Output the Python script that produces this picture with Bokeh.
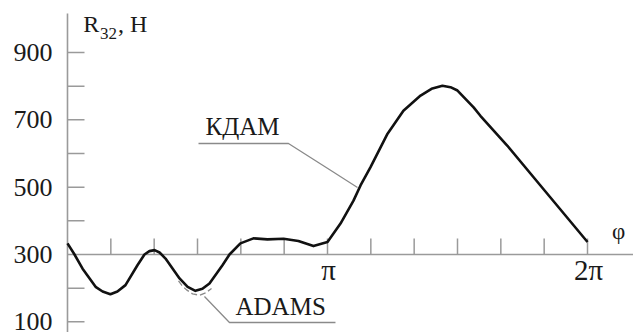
import numpy as np
from bokeh.plotting import figure
from bokeh.models import Range1d
from bokeh.core.properties import value
from bokeh.embed import file_html
from bokeh.resources import INLINE

# ---- data (phi given in units of pi, force R32 in N) ----
kdam_phi = [0.000, 0.027, 0.058, 0.108, 0.135, 0.165, 0.192, 0.223, 0.269, 0.296,
            0.315, 0.335, 0.354, 0.377, 0.431, 0.462, 0.492, 0.519, 0.546, 0.596,
            0.623, 0.665, 0.715, 0.769, 0.831, 0.888, 0.946, 1.000, 1.050, 1.100,
            1.127, 1.165, 1.231, 1.292, 1.358, 1.400, 1.442, 1.473, 1.500, 1.562,
            1.588, 1.692, 1.819, 2.000]
kdam_r32 = [333, 300, 258, 204, 190, 182, 190, 209, 268, 300,
            310, 313, 306, 288, 229, 204, 192, 198, 214, 268,
            300, 333, 348, 345, 347, 340, 325, 337, 392, 460,
            505, 559, 659, 727, 772, 792, 801, 797, 787, 737,
            712, 623, 505, 337]

adams_phi = [0.427, 0.440, 0.458, 0.481, 0.508, 0.531, 0.554]
adams_r32 = [222, 208, 195, 183, 179, 186, 199]

y_tick_values = [100, 200, 400, 500, 600, 700, 800, 900]
y_label_values = [900, 700, 500, 300, 100]
y_labels = ["900", "700", "500", "300", "100"]
x_tick_steps = list(range(1, 13))          # multiples of pi/6
x_label_values = [1.0, 2.0]                # in units of pi
x_labels = ["\u03c0", "2\u03c0"]

# ---- geometry ----
W, H = 633, 332
px_per_rad = 260 / np.pi
px_per_N = 202 / 600.0
x0_px, y300_px = 67, 254           # pixel of phi=0 and R=300
x_start = -x0_px / px_per_rad
x_end = (W - x0_px) / px_per_rad
y_end = 300 + y300_px / px_per_N
y_start = 300 - (H - y300_px) / px_per_N

AX = "#9a9a9a"
TXT = "#1a1a1a"
FONT = value("Liberation Serif")

p = figure(width=W, height=H, output_backend="svg", toolbar_location=None,
           x_range=Range1d(x_start, x_end), y_range=Range1d(y_start, y_end),
           min_border=0, outline_line_color=None)
p.xaxis.visible = False
p.yaxis.visible = False
p.xgrid.visible = False
p.ygrid.visible = False
p.background_fill_color = "white"
p.border_fill_color = "white"

# axes
p.segment(x0=[0], y0=[y_start], x1=[0], y1=[300 + 241 / px_per_N], line_color=AX, line_width=1.6)
p.segment(x0=[0], y0=[300], x1=[x_end + 0.1], y1=[300], line_color=AX, line_width=1.6)

ytl = 17 / px_per_rad
p.segment(x0=[0] * len(y_tick_values), y0=y_tick_values,
          x1=[ytl] * len(y_tick_values), y1=y_tick_values, line_color=AX, line_width=1.5)
xt = [k * np.pi / 6 for k in x_tick_steps]
xtl = 16 / px_per_N
p.segment(x0=xt, y0=[300] * len(xt), x1=xt, y1=[300 + xtl] * len(xt), line_color=AX, line_width=1.5)

# tick labels
p.text(x=[0] * len(y_label_values), y=y_label_values, text=y_labels,
       text_font=FONT, text_font_size="26px", text_color=TXT,
       text_align="right", text_baseline="middle", x_offset=-15, y_offset=0)
p.text(x=[v * np.pi for v in x_label_values], y=[300] * len(x_labels), text=x_labels,
       text_font=FONT, text_font_size="29px", text_color=TXT,
       text_align="center", text_baseline="middle", x_offset=1, y_offset=15)

# axis titles
p.text(x=[0.19], y=[984.0], text=["R"], text_font=FONT, text_font_size="24px",
       text_color=TXT, text_baseline="middle")
p.text(x=[0.393], y=[957.9], text=["32"], text_font=FONT, text_font_size="17px",
       text_color=TXT, text_baseline="middle")
p.text(x=[0.610], y=[984.0], text=[", H"], text_font=FONT, text_font_size="24px",
       text_color=TXT, text_baseline="middle")
p.text(x=[6.658], y=[368], text=["\u03c6"], text_font=FONT, text_font_size="23px",
       text_color=TXT, text_align="center", text_baseline="middle")

# curves
kx = np.array(kdam_phi) * np.pi
ax_ = np.array(adams_phi) * np.pi
p.line(ax_, adams_r32, line_color="#8a8a8a", line_width=1.3, line_dash="6 3")
p.line(kx, kdam_r32, line_color="#111111", line_width=2.6, line_join="round")

# leaders and labels
p.line([1.583, 2.670, 3.202, 3.504], [629.7, 629.7, 546.5, 499.0], line_color="#8a8a8a", line_width=1.3)
p.text(x=[1.667], y=[680.5], text=["\u041a\u0414\u0410\u041c"], text_font=FONT, text_font_size="25px",
       text_color=TXT, text_baseline="middle")
p.line([1.655, 1.957, 3.238], [175.2, 98.0, 98.0], line_color="#8a8a8a", line_width=1.3)
p.text(x=[2.030], y=[147.0], text=["ADAMS"], text_font=FONT, text_font_size="25px",
       text_color=TXT, text_baseline="middle")

open("out.html", "w").write(file_html(p, INLINE))
